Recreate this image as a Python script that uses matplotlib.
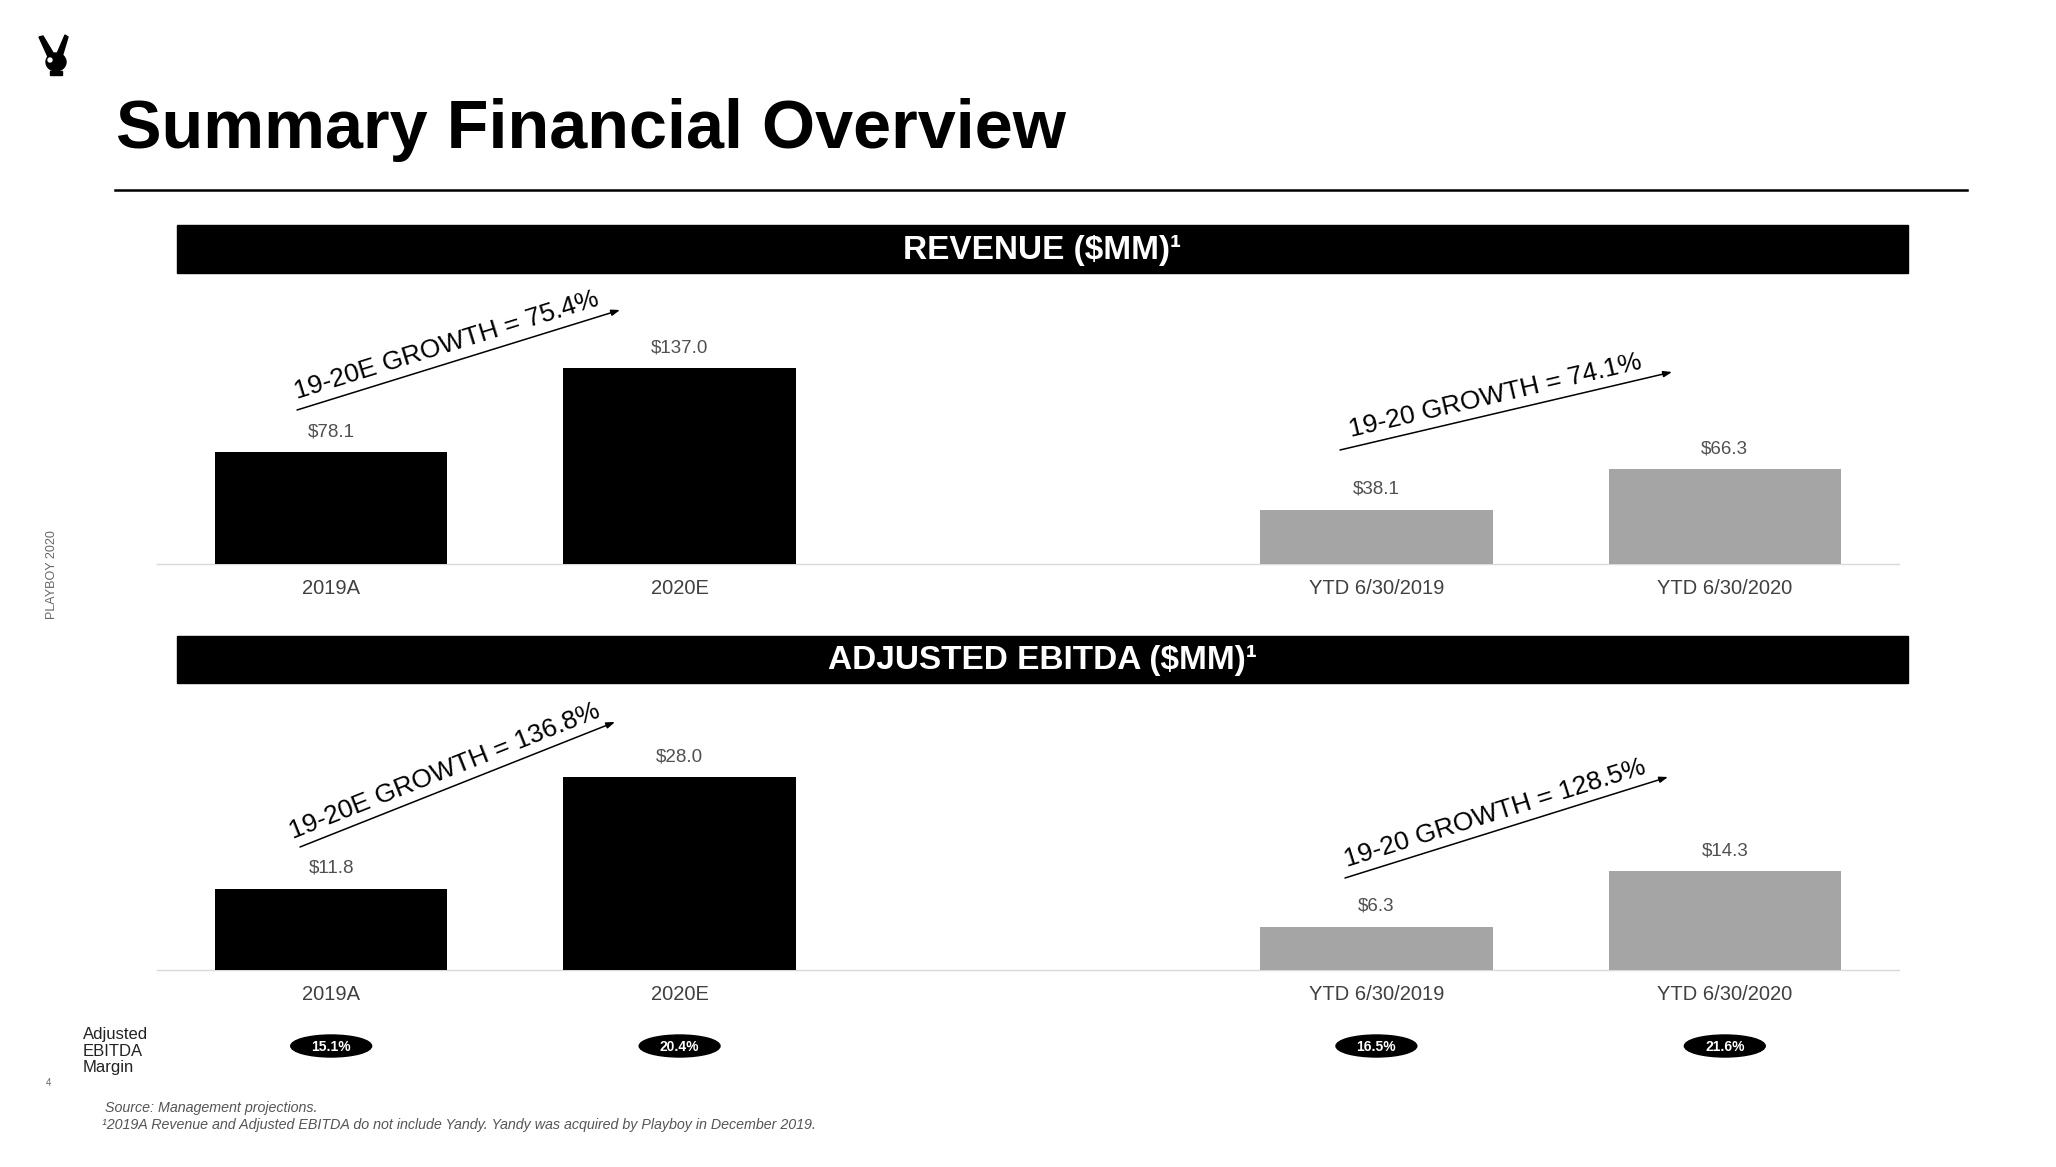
import math
import matplotlib
matplotlib.use("Agg")
import matplotlib.pyplot as plt
from matplotlib.patches import Rectangle, Ellipse, Polygon
from matplotlib.transforms import blended_transform_factory

# chart values
periods = ["2019A", "2020E", "YTD 6/30/2019", "YTD 6/30/2020"]
revenue = [78.1, 137.0, 38.1, 66.3]
ebitda = [11.8, 28.0, 6.3, 14.3]
margins = ["15.1%", "20.4%", "16.5%", "21.6%"]
rev_growth = ["19-20E GROWTH = 75.4%", "19-20 GROWTH = 74.1%"]
ebitda_growth = ["19-20E GROWTH = 136.8%", "19-20 GROWTH = 128.5%"]

W, H = 2056, 1167
plt.rcParams["font.family"] = ["Liberation Sans", "DejaVu Sans"]
fig = plt.figure(figsize=(W / 100, H / 100), dpi=100)

# page layer in pixel coords (y down)
page = fig.add_axes([0, 0, 1, 1])
page.set_xlim(0, W)
page.set_ylim(H, 0)
page.axis("off")


def px_axes(x0, x1, y_top, y_base):
    ax = fig.add_axes([x0 / W, 1 - y_base / H, (x1 - x0) / W, (y_base - y_top) / H])
    ax.patch.set_alpha(0)
    return ax


pos = [0, 1, 3, 4]
colors = ["black", "black", "#a5a5a5", "#a5a5a5"]


def bar_panel(ax, vals, ytop):
    ax.bar(pos, vals, width=0.667, color=colors, zorder=2)
    ax.set_xlim(-0.5, 4.5)
    ax.set_ylim(0, ytop)
    ax.axhline(0, color="#d9d9d9", lw=1, zorder=1, clip_on=False)
    ax.axis("off")
    for x, v, lab in zip(pos, vals, periods):
        ax.annotate(f"${v:.1f}", (x, v), xytext=(0, 14.5), textcoords="offset points",
                    ha="center", va="center", fontsize=13.5, color="#505050")
        ax.annotate(lab, (x, 0), xytext=(0, -18), textcoords="offset points",
                    ha="center", va="center", fontsize=14.5, color="#404040")


def header(y0, y1, label):
    page.add_patch(Rectangle((177, y0), 1908 - 177, y1 - y0, color="black"))
    page.text((177 + 1908) / 2, (y0 + y1) / 2 + 1, label, color="white", fontsize=24,
              weight="bold", ha="center", va="center")


def growth(p0, p1, label, t=0.48, off=10):
    page.annotate("", xy=p1, xytext=p0,
                  arrowprops=dict(arrowstyle="-|>,head_length=0.5,head_width=0.18",
                                  color="black", lw=1.1, shrinkA=0, shrinkB=0))
    dx, dy = p1[0] - p0[0], p1[1] - p0[1]
    L = math.hypot(dx, dy)
    ang = math.degrees(math.atan2(-dy, dx))
    nx, ny = dy / L, -dx / L
    cx = p0[0] + t * dx + off * nx
    cy = p0[1] + t * dy + off * ny
    page.text(cx, cy, label, rotation=ang, rotation_mode="anchor", ha="center",
              va="baseline", fontsize=19, color="black")


# logo (rough bunny) and title
page.add_patch(Ellipse((56, 62), 20, 18, color="black"))
page.add_patch(Polygon([(39, 37), (43, 36), (55, 56), (49, 59)], color="black"))
page.add_patch(Polygon([(65, 35), (68, 37), (62, 57), (56, 56)], color="black"))
page.add_patch(Polygon([(50, 71), (62, 71), (62, 75), (50, 75)], color="black"))
page.add_patch(Ellipse((50, 60), 4, 4, color="white"))
page.text(116, 148, "Summary Financial Overview", fontsize=49.2, weight="bold", va="baseline")
page.plot([115, 1967], [190, 190], color="black", lw=1.8)

page.text(52, 575, "PLAYBOY 2020", rotation=90, fontsize=9, color="#666666",
          ha="center", va="center")
page.text(49, 1083, "4", fontsize=7, color="#666666", ha="center", va="center")

# revenue panel
header(225, 273, "REVENUE ($MM)¹")
ax_r = px_axes(157, 1899, 300, 564)
bar_panel(ax_r, revenue, 264 / 1.428)
growth((297, 410), (620, 310), rev_growth[0])
growth((1340, 450), (1672, 372), rev_growth[1])

# adjusted ebitda panel
header(636, 683, "ADJUSTED EBITDA ($MM)¹")
ax_e = px_axes(157, 1899, 700, 970)
bar_panel(ax_e, ebitda, 270 / 6.9)
growth((300, 847), (615, 722), ebitda_growth[0])
growth((1345, 878), (1668, 777), ebitda_growth[1])

# margin pills under the ebitda bars
blend = blended_transform_factory(ax_e.transData, page.transData)
for x, m in zip(pos, margins):
    ax_e.add_patch(Ellipse((x, 1046), 0.232, 22, transform=blend, color="black", clip_on=False))
    ax_e.text(x, 1047, m, transform=blend, ha="center", va="center", color="white",
              fontsize=10, weight="bold", clip_on=False)

page.text(83, 1051, "Adjusted\nEBITDA\nMargin", fontsize=12, linespacing=1.1,
          ha="left", va="center", color="#222222")

# footnotes
page.text(105, 1108, "Source: Management projections.", style="italic", fontsize=10.3,
          color="#555555", va="center")
page.text(102, 1125, "¹2019A Revenue and Adjusted EBITDA do not include Yandy. "
          "Yandy was acquired by Playboy in December 2019.", style="italic",
          fontsize=10.3, color="#555555", va="center")

fig.savefig("out.png", dpi=100)
